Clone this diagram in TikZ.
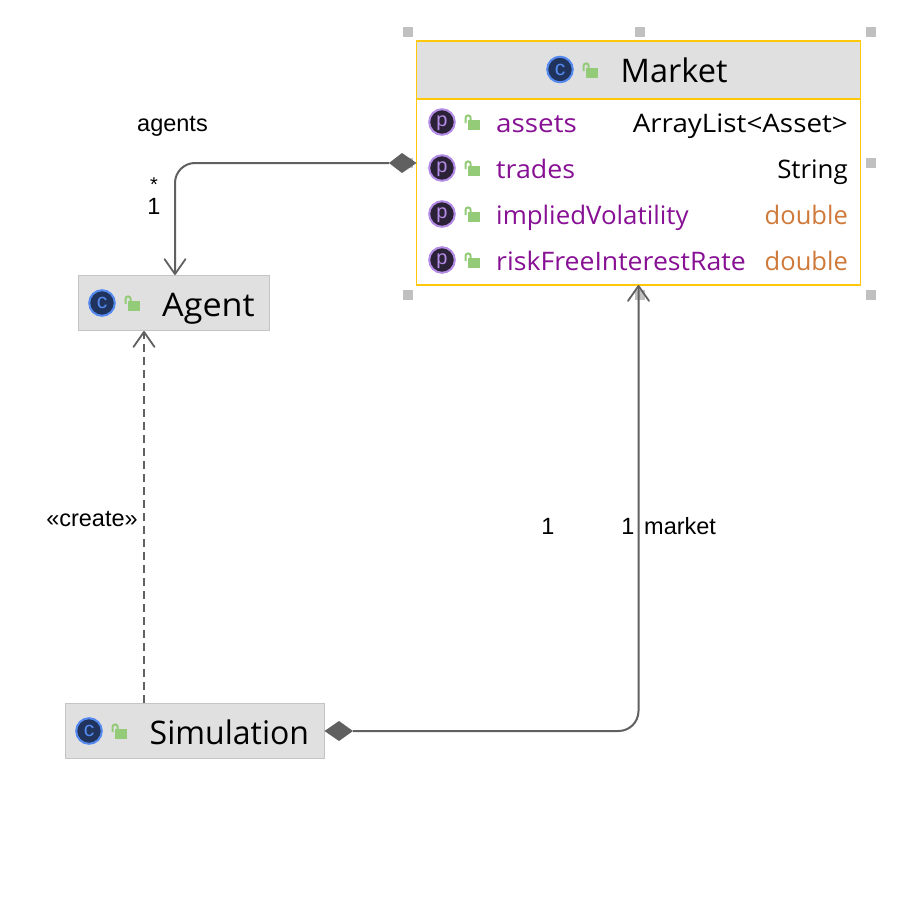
\documentclass[tikz,border=0pt]{standalone}
\usepackage{fontspec}
\setmainfont{Open Sans}
\newfontfamily\lblfont{Liberation Sans}
\usetikzlibrary{arrows.meta,calc}
\definecolor{hdr}{HTML}{E0E0E0}
\definecolor{sel}{HTML}{FFC80A}
\definecolor{cbord}{HTML}{C4C4C4}
\definecolor{wire}{HTML}{606060}
\definecolor{purp}{HTML}{871094}
\definecolor{orng}{HTML}{CF7A3A}
\definecolor{lockc}{HTML}{93CB78}
\definecolor{handle}{HTML}{C0C0C0}
\definecolor{cfill}{HTML}{20335C}
\definecolor{cring}{HTML}{548AF0}
\definecolor{pfill}{HTML}{2B2238}
\definecolor{pring}{HTML}{B48CE6}
\newcommand{\sx}[2]{\scalebox{#1}[1]{#2}}
\tikzset{
  x=1pt,y=-1pt,
  classbox/.style={draw=cbord,fill=hdr,line width=1pt,inner sep=0pt,outer sep=0pt},
  titletxt/.style={font=\fontsize{32.5}{36}\selectfont,text=black,inner sep=0pt,anchor=base west},
  fieldname/.style={font=\fontsize{25.5}{30}\selectfont,text=purp,inner sep=0pt,anchor=base west},
  fieldtype/.style={font=\fontsize{25.5}{30}\selectfont,text=black,inner sep=0pt,anchor=base east},
  fieldprim/.style={fieldtype,text=orng},
  lbl/.style={font=\lblfont\fontsize{23.5}{27}\selectfont,text=black,inner sep=0pt},
  wireline/.style={draw=wire,line width=2pt,rounded corners=20pt},
  openhead/.style={-{Straight Barb[length=15pt,width=21pt,line width=1.8pt,round]}},
  handlebox/.style={fill=handle,draw=none,minimum size=9.5pt,inner sep=0pt},
  pics/cicon/.style={code={
    \fill[cfill,draw=cring,line width=2pt] (0,0) circle (12.8pt);
    \node[text=cring,font=\lblfont\fontsize{21}{21}\selectfont,inner sep=0pt] at (0,0) {c};
  }},
  pics/picon/.style={code={
    \fill[pfill,draw=pring,line width=2pt] (0,0) circle (12.8pt);
    \node[text=pring,font=\lblfont\fontsize{20}{20}\selectfont,inner sep=0pt] at (0,1) {p};
  }},
  pics/lockicon/.style={code={
    \fill[lockc] (-4,-2) rectangle (8,8);
    \draw[lockc,line width=2pt] (-6.5,1) -- (-6.5,-4) arc[start angle=180,end angle=0,radius=2.6pt] -- (-1.3,-2);
  }},
}
\begin{document}
\begin{tikzpicture}
\useasboundingbox (0,0) rectangle (902,902);
\fill[white] (0,0) rectangle (902,902);

% selection handles
\foreach \hx/\hy/\hn in {408/32/a,640/32/b,871/32/c,871/163/d,871/295/e,640/295/f,408/295/g,408/163/h}{
  \node[handlebox] (handle\hn) at (\hx,\hy) {};
}

% Market
\node[draw=sel,fill=white,line width=1.2pt,minimum width=444pt,minimum height=244pt,inner sep=0pt,outer sep=0pt] (market) at (638.5,163) {};
\node[draw=sel,fill=hdr,line width=1.5pt,minimum width=444pt,minimum height=58pt,inner sep=0pt,outer sep=0pt] (markethead) at (638.5,70) {};
\pic at (560,69.5) {cicon};
\pic at (590,70) {lockicon};
\node[titletxt] (markettitle) at (620.5,82.5) {Market};

\foreach \fy/\fk in {122/a,168/b,214/c,260/d}{
  \pic at (442,\fy) {picon};
  \pic at (472,\fy) {lockicon};
}
\node[fieldname] (f1) at (496,132) {\sx{1.09}{assets}};
\node[fieldname] (f2) at (496,178) {\sx{1.05}{trades}};
\node[fieldname] (f3) at (496,224) {\sx{1.015}{impliedVolatility}};
\node[fieldname] (f4) at (496,270) {\sx{1.045}{riskFreeInterestRate}};
\node[fieldtype] (t1) at (848,132) {\sx{1.09}{ArrayList<Asset>}};
\node[fieldtype] (t2) at (848,178) {\sx{1.015}{String}};
\node[fieldprim] (t3) at (848,224) {double};
\node[fieldprim] (t4) at (848,270) {double};

% Agent
\node[classbox,minimum width=191pt,minimum height=55pt] (agent) at (174,303) {};
\pic at (102,303) {cicon};
\pic at (132,303) {lockicon};
\node[titletxt] (agenttitle) at (162,316) {\sx{1.05}{Agent}};

% Simulation
\node[classbox,minimum width=259pt,minimum height=55pt] (simulation) at (195,731) {};
\pic at (89,731) {cicon};
\pic at (119,731) {lockicon};
\node[titletxt] (simtitle) at (149.5,744) {\sx{0.985}{Simulation}};

% connectors
\coordinate (mw) at (market.west |- 0,163);
\coordinate (mwd) at (389,163);
\coordinate (at) at (175,275);
\coordinate (ab) at (144,331);
\coordinate (st) at (144,703);
\coordinate (se) at (353,731);
\coordinate (mb) at (638.5,285);

\draw[wireline,openhead] (mwd) -- (175,163) -- (at);
\fill[wire] (mw) -- (402,153) -- (mwd) -- (402,173) -- cycle;

\draw[draw=wire,line width=2pt,dash pattern=on 8pt off 5pt,openhead] (st) -- (ab);

\draw[wireline,openhead] (se) -- (638.5,731) -- (mb);
\fill[wire] (simulation.east) -- (339,721) -- (se) -- (339,741) -- cycle;

% labels
\node[lbl,anchor=base] (agentslbl) at (172.5,131) {agents};
\node[lbl,anchor=base,font=\lblfont\fontsize{20}{20}\selectfont] (starlbl) at (154,191) {*};
\node[lbl,anchor=base] (onelbl) at (154,214) {1};
\node[lbl,anchor=base] (createlbl) at (92,526) {«create»};
\node[lbl,anchor=base] (srcone) at (548,534) {1};
\node[lbl,anchor=base] (dstone) at (628,534) {1};
\node[lbl,anchor=base west] (marketlbl) at (644,534) {market};
\end{tikzpicture}
\end{document}
